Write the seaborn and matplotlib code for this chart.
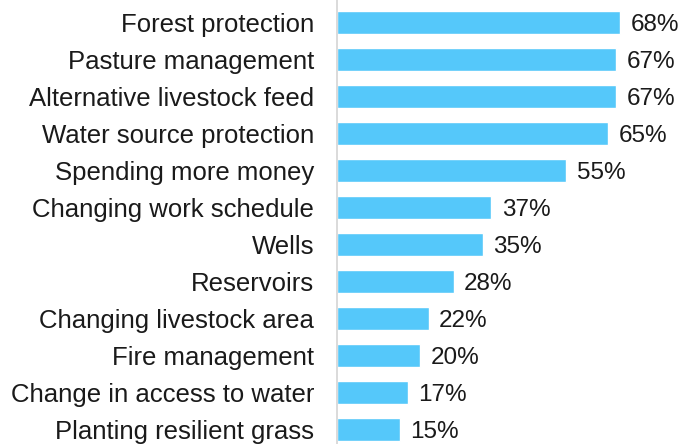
import matplotlib
matplotlib.use("Agg")
import matplotlib.pyplot as plt
import seaborn as sns
import pandas as pd

# Values
categories = [
    "Forest protection",
    "Pasture management",
    "Alternative livestock feed",
    "Water source protection",
    "Spending more money",
    "Changing work schedule",
    "Wells",
    "Reservoirs",
    "Changing livestock area",
    "Fire management",
    "Change in access to water",
    "Planting resilient grass",
]
shares = [68, 67, 67, 65, 55, 37, 35, 28, 22, 20, 17, 15]

df = pd.DataFrame({"category": categories, "share": shares})

sns.set_style("white")
plt.rcParams["font.family"] = ["Liberation Sans", "DejaVu Sans"]

fig = plt.figure(figsize=(6.98, 4.44), dpi=100)
ax = fig.add_axes([337 / 698, 0, 361 / 698, 1])

sns.barplot(data=df, x="share", y="category", color="#55C8FA",
            saturation=1, width=0.62, ax=ax)

for i, v in enumerate(shares):
    ax.text(v + 2.5, i, f"{v}%", va="center_baseline", ha="left",
            fontsize=17.5, color="#1a1a1a")

ax.set_xlim(0, 86.6)
ax.set_ylim(11.4, -0.62)
ax.set_xlabel("")
ax.set_ylabel("")
ax.set_xticks([])
ax.tick_params(axis="y", length=0, pad=16.5, labelsize=18.5, labelcolor="#1a1a1a")

for s in ["top", "right", "bottom"]:
    ax.spines[s].set_visible(False)
ax.spines["left"].set_color("#d4d4d4")
ax.spines["left"].set_linewidth(1.2)

fig.savefig("out.png", dpi=100)
